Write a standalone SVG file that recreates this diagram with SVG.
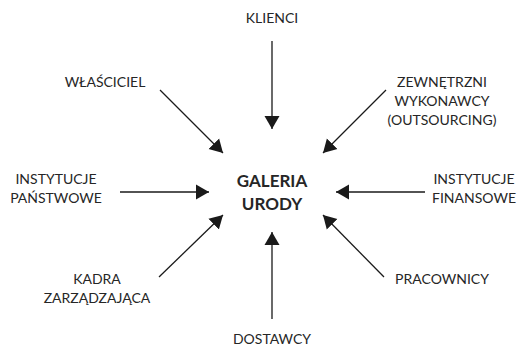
<svg xmlns="http://www.w3.org/2000/svg" width="523" height="347" viewBox="0 0 523 347">
<style>
text{font-family:Lato,"Open Sans","Liberation Sans",sans-serif;font-size:14px;fill:#262626;text-anchor:middle}
.c{font-weight:bold;font-size:17px}
.l{stroke:#1a1a1a;stroke-width:1.3;fill:none;marker-end:url(#ah)}
</style>
<defs>
<marker id="ah" markerUnits="userSpaceOnUse" markerWidth="14" markerHeight="16" refX="13" refY="7.5" orient="auto" viewBox="0 0 14 15">
<path d="M0,0 L13,7.5 L0,15 Z" fill="#1a1a1a"/>
</marker>
</defs>
<g id="center"><text class="c" x="272" y="187">GALERIA</text><text class="c" x="272" y="210">URODY</text></g>
<g id="klienci"><text x="272" y="23">KLIENCI</text></g>
<g id="wlasciciel"><text x="105" y="87">WŁAŚCICIEL</text></g>
<g id="zewnetrzni"><text x="442" y="87">ZEWNĘTRZNI</text><text x="442" y="106">WYKONAWCY</text><text x="442" y="125">(OUTSOURCING)</text></g>
<g id="instytucje-panstwowe"><text x="56" y="184">INSTYTUCJE</text><text x="56" y="203">PAŃSTWOWE</text></g>
<g id="instytucje-finansowe"><text x="474" y="184">INSTYTUCJE</text><text x="474" y="203">FINANSOWE</text></g>
<g id="kadra"><text x="97" y="284">KADRA</text><text x="97" y="303">ZARZĄDZAJĄCA</text></g>
<g id="pracownicy"><text x="442" y="284">PRACOWNICY</text></g>
<g id="dostawcy"><text x="272" y="344">DOSTAWCY</text></g>
<g id="connectors">
<line class="l" x1="272" y1="41" x2="272" y2="129"/>
<line class="l" x1="160" y1="90" x2="223" y2="153"/>
<line class="l" x1="386" y1="90" x2="323" y2="153"/>
<line class="l" x1="120" y1="192" x2="209" y2="192"/>
<line class="l" x1="425" y1="192" x2="336" y2="192"/>
<line class="l" x1="159" y1="277" x2="223" y2="215"/>
<line class="l" x1="384" y1="277" x2="323" y2="215"/>
<line class="l" x1="272" y1="319" x2="272" y2="232"/>
</g>
</svg>
